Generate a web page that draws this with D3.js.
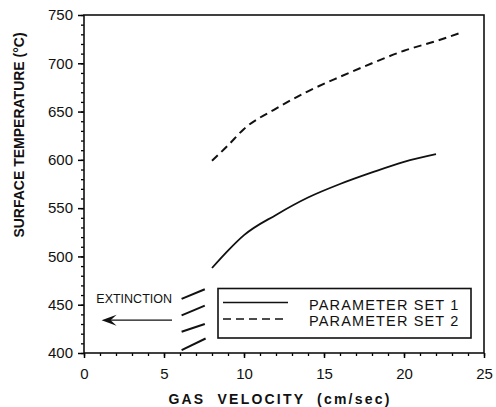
<!doctype html>
<meta charset="utf-8">
<script src="https://d3js.org/d3.v7.min.js"></script>
<style>
  body { margin: 0; background: #fff; }
  text { font-family: "Liberation Sans", Arial, Helvetica, sans-serif; fill: #111; }
</style>
<body>
</body>
<script>
// ---- data ----
var set1 = [[8, 488], [9, 506], [10, 522], [12, 543], [14, 561], [16, 575], [18, 587], [20, 598], [22, 606]];
var set2 = [[8, 599], [9, 615], [10, 632], [12, 653], [14, 671], [16, 686], [18, 700], [20, 713], [22, 723], [23.6, 732]];
// short hatch marks near the extinction limit
var extinction = [
  [[6.1, 403], [7.6, 415]],
  [[6.1, 422], [7.55, 430]],
  [[6.1, 439], [7.55, 449]],
  [[6.1, 456], [7.55, 466]]
];
var arrowFrom = [5.5, 434], arrowTo = [1.1, 434];
var xTicks = [0, 5, 10, 15, 20, 25];
var yTicks = [400, 450, 500, 550, 600, 650, 700, 750];
var legendLabels = ["PARAMETER SET 1", "PARAMETER SET 2"];

var W = 496, H = 407;
var margin = { top: 15, right: 12, bottom: 54, left: 84 };

var svg = d3.select("body").append("svg").attr("width", W).attr("height", H);

var x = d3.scaleLinear().domain([0, 25]).range([margin.left, W - margin.right]);
var y = d3.scaleLinear().domain([400, 750]).range([H - margin.bottom, margin.top]);

//---minor ticks first
svg.append("g")
  .attr("transform", "translate(" + x(0) + ",0)")
  .call(d3.axisLeft(y).tickValues(d3.range(400, 751, 10)).tickSize(3).tickFormat("").tickSizeOuter(0))
  .call(function(g){ g.select(".domain").remove(); })
  .selectAll("line").attr("stroke-width", 1.3);
svg.append("g")
  .attr("transform", "translate(0," + y(400) + ")")
  .call(d3.axisBottom(x).tickValues(d3.range(0, 26, 1)).tickSize(3).tickFormat("").tickSizeOuter(0))
  .call(function(g){ g.select(".domain").remove(); })
  .selectAll("line").attr("stroke-width", 1.3);

//---major ticks + labels
var yAxis = svg.append("g")
  .attr("transform", "translate(" + x(0) + ",0)")
  .call(d3.axisLeft(y).tickValues(yTicks).tickSize(6).tickPadding(5).tickSizeOuter(0));
var xAxis = svg.append("g")
  .attr("transform", "translate(0," + y(400) + ")")
  .call(d3.axisBottom(x).tickValues(xTicks).tickSize(5).tickPadding(10).tickSizeOuter(0));
[xAxis, yAxis].forEach(function(a){
  a.select(".domain").remove();
  a.attr("font-family", null).attr("font-size", null);
  a.selectAll("line").attr("stroke-width", 1.5);
  a.selectAll("text").style("font-size", "15px").attr("fill", "#111");
});

//---frame
svg.append("rect")
  .attr("x", x(0)).attr("y", y(750))
  .attr("width", x(25) - x(0)).attr("height", y(400) - y(750))
  .attr("fill", "none").attr("stroke", "#111").attr("stroke-width", 1.6);

//---curves
var line = d3.line()
  .x(function(d){ return x(d[0]); })
  .y(function(d){ return y(d[1]); })
  .curve(d3.curveMonotoneX);

svg.append("path").attr("d", line(set1))
  .attr("fill", "none").attr("stroke", "#111").attr("stroke-width", 1.8);
svg.append("path").attr("d", line(set2))
  .attr("fill", "none").attr("stroke", "#111").attr("stroke-width", 2)
  .attr("stroke-dasharray", "8,5");

//---extinction marks
svg.append("g").selectAll("path")
  .data(extinction)
  .enter().append("path")
  .attr("d", d3.line().x(function(d){ return x(d[0]); }).y(function(d){ return y(d[1]); }))
  .attr("stroke", "#111").attr("stroke-width", 2).attr("fill", "none");

svg.append("line")
  .attr("x1", x(arrowFrom[0])).attr("y1", y(arrowFrom[1]))
  .attr("x2", x(arrowTo[0]) + 8).attr("y2", y(arrowTo[1]))
  .attr("stroke", "#111").attr("stroke-width", 1.3);
var ax = x(arrowTo[0]), ay = y(arrowTo[1]);
svg.append("path")
  .attr("d", "M" + ax + "," + ay + "L" + (ax + 15) + "," + (ay - 5.5) + "L" + (ax + 9) + "," + ay + "L" + (ax + 15) + "," + (ay + 5.5) + "Z")
  .attr("fill", "#111");

svg.append("text")
  .attr("x", x(arrowFrom[0])).attr("y", y(452))
  .attr("text-anchor", "end")
  .style("font-size", "12.5px")
  .text("EXTINCTION");

//---legend
var lg = svg.append("g").attr("transform", "translate(218,288.5)");
lg.append("rect").attr("width", 253).attr("height", 49.5)
  .attr("fill", "#fff").attr("stroke", "#111").attr("stroke-width", 1.6);
legendLabels.forEach(function(lab, i){
  var ly = 14 + i * 16.5;
  lg.append("line").attr("x1", 5).attr("x2", 70).attr("y1", ly).attr("y2", ly)
    .attr("stroke", "#111").attr("stroke-width", 1.5)
    .attr("stroke-dasharray", i == 1 ? "8,5" : null);
  lg.append("text").attr("x", 91).attr("y", ly + 7)
    .style("font-size", "14.5px").style("letter-spacing", "1.15px")
    .text(lab);
});

//---axis titles
svg.append("text")
  .attr("x", 280).attr("y", 404)
  .attr("text-anchor", "middle")
  .style("font-size", "14px").style("font-weight", "bold")
  .style("letter-spacing", "2.2px").style("white-space", "pre")
  .text("GAS  VELOCITY  (cm/sec)");

svg.append("text")
  .attr("transform", "translate(24,135) rotate(-90)")
  .attr("text-anchor", "middle")
  .style("font-size", "14px").style("font-weight", "bold")
  .text("SURFACE TEMPERATURE (°C)");
</script>
